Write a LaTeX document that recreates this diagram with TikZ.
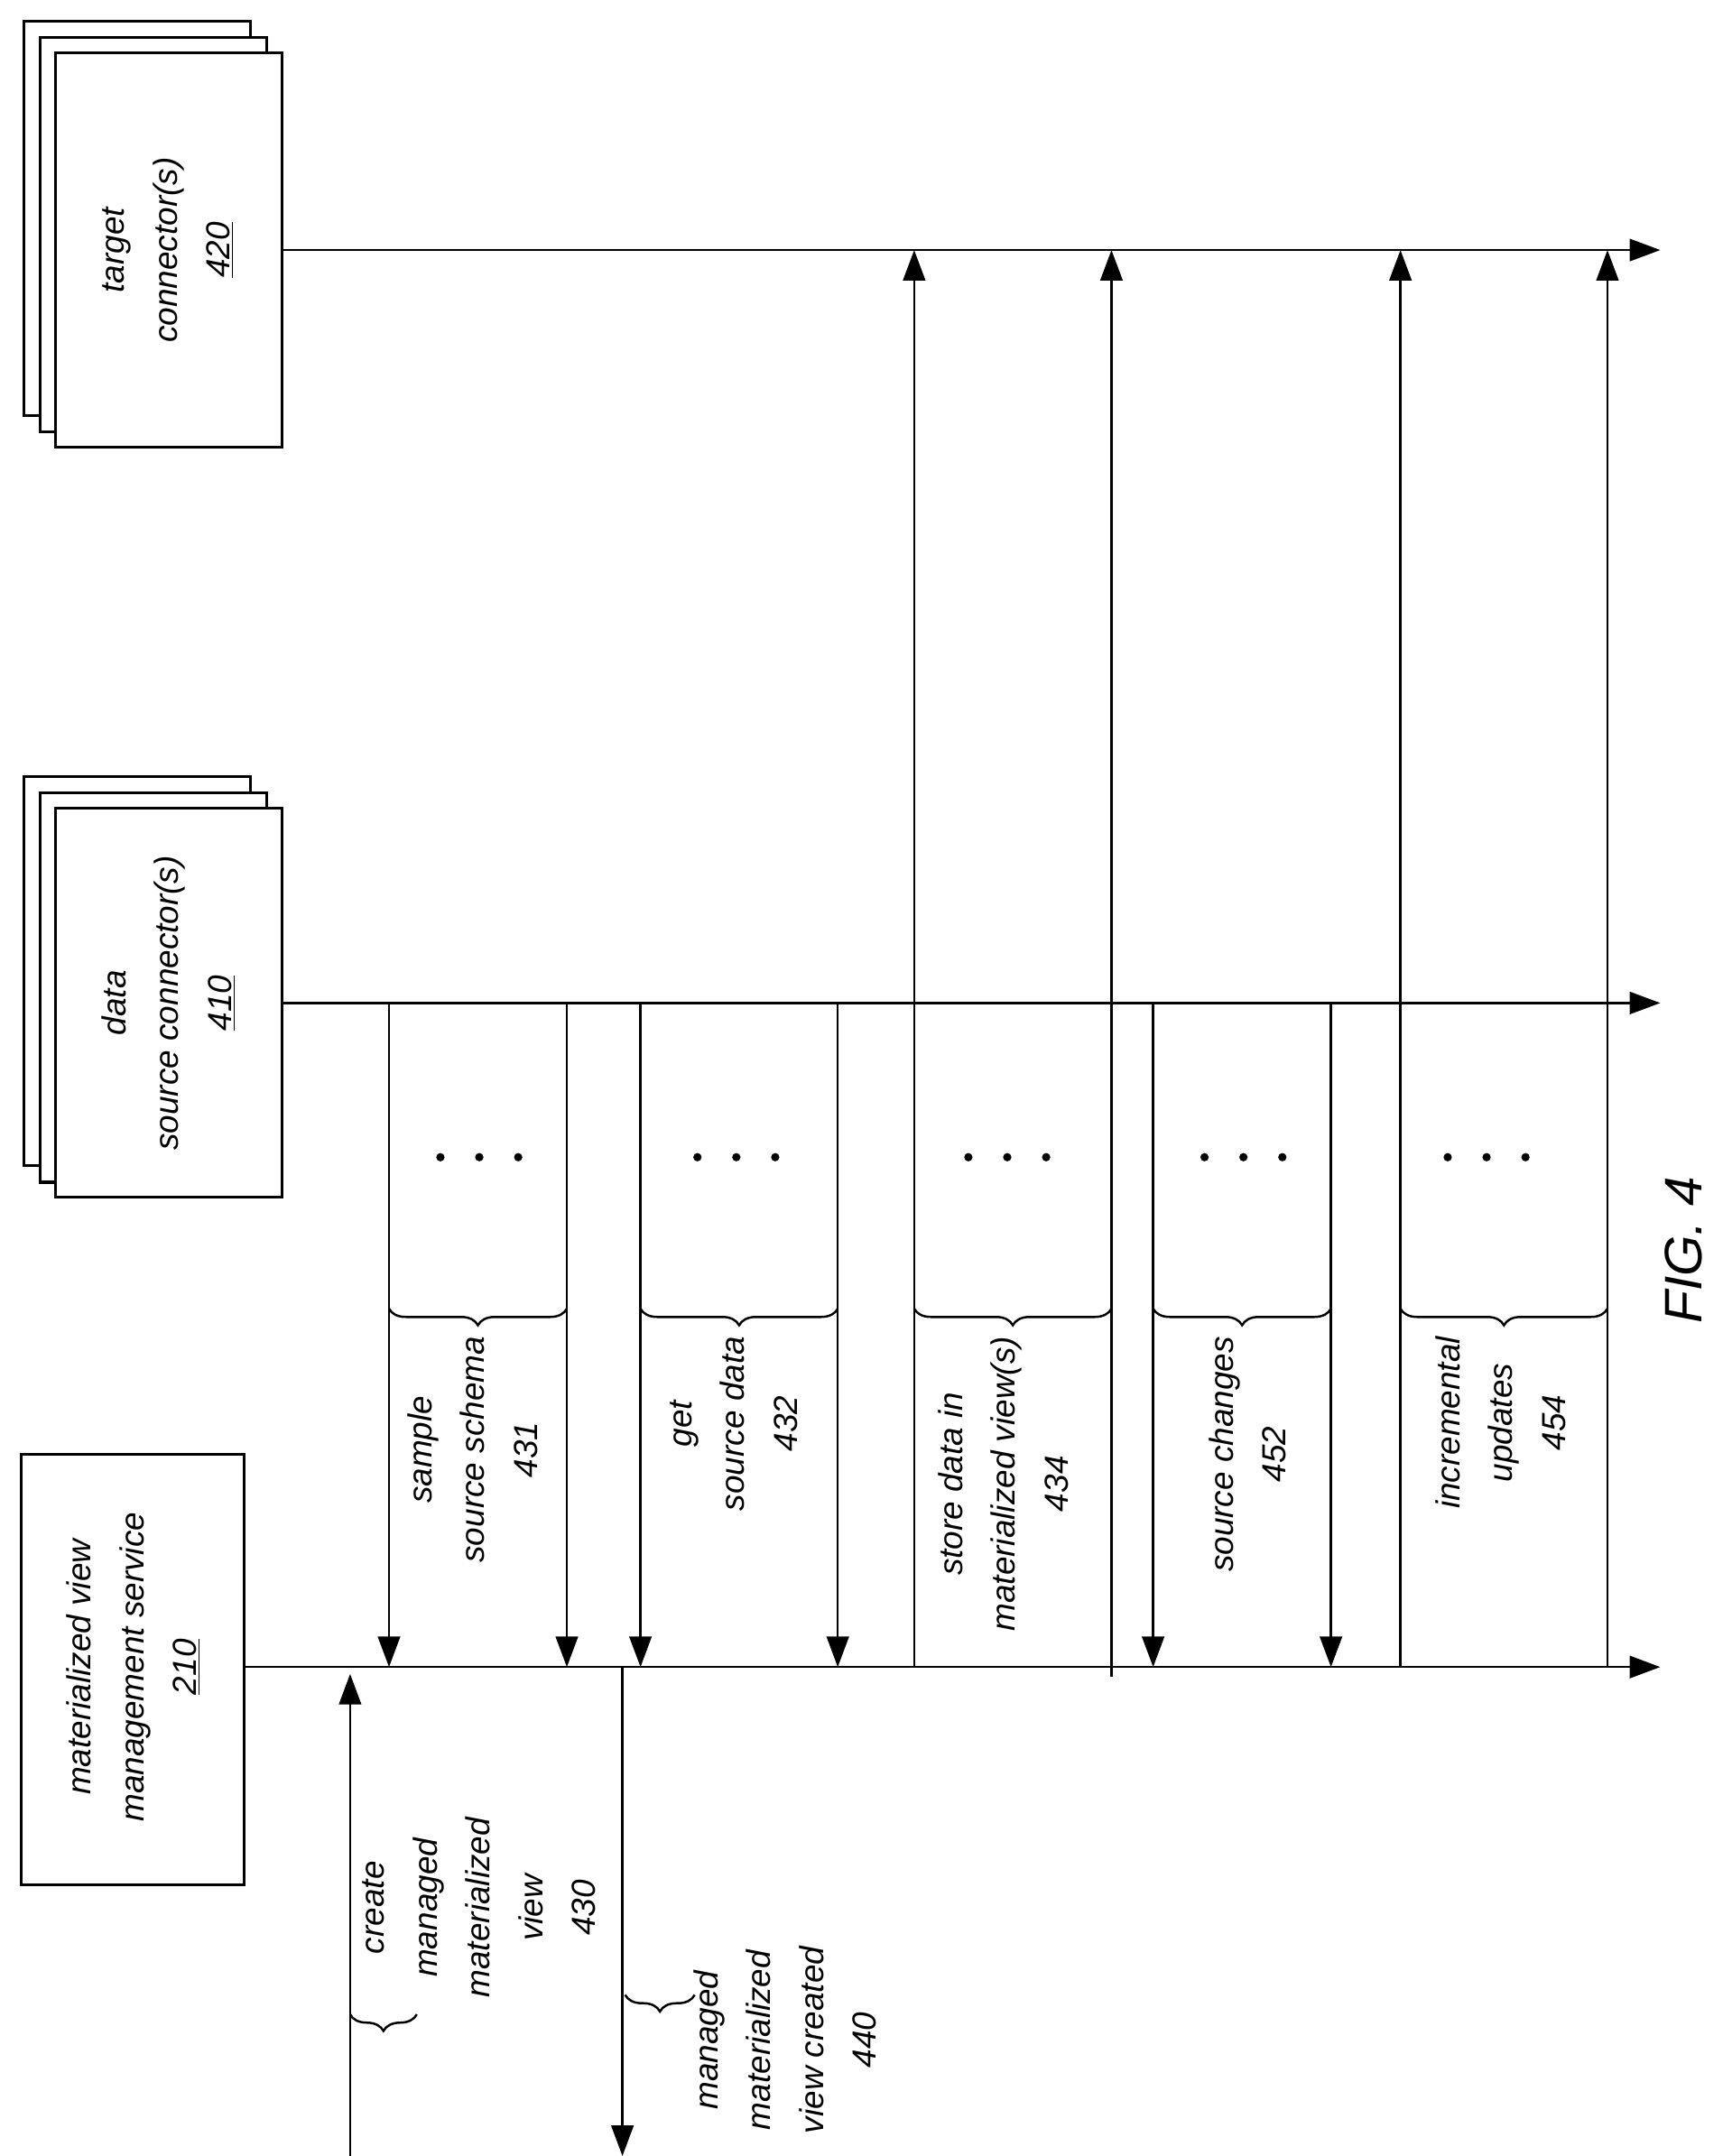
\documentclass[tikz,border=0pt]{standalone}
\usepackage{fontspec}
\setmainfont{Liberation Sans}
\usetikzlibrary{arrows.meta,decorations.pathreplacing}
\begin{document}
\begin{tikzpicture}[x=1pt,y=-1pt,line width=1.6pt,
 box/.style={draw,fill=white,line width=2pt},
 lbl/.style={rotate=90,align=center,font=\fontsize{24}{38}\selectfont\itshape},
 arr/.style={-{Triangle[length=22pt,width=16pt]}},
 brc/.style={decorate,decoration={brace,amplitude=12pt,mirror}}]
\useasboundingbox (0,0) rectangle (1240,1552);
% boxes
\draw[box] (15,1047) rectangle (176,1357);
\node[lbl] (b210) at (96,1200) {materialized view\\management service\\\underline{210}};
\foreach \d in {23,11,0}{\draw[box] (40-\d,582-\d) rectangle (203-\d,862-\d);}
\node[lbl] (b410) at (121,722) {data\\source connector(s)\\\underline{410}};
\foreach \d in {23,11,0}{\draw[box] (40-\d,38-\d) rectangle (203-\d,322-\d);}
\node[lbl] (b420) at (121,180) {target\\connector(s)\\\underline{420}};
% lifelines
\coordinate (e210) at (1195,1200);\coordinate (e410) at (1195,722);\coordinate (e420) at (1195,180);
\draw[arr] (176,1200) -- (e210);
\draw[arr] (203,722) -- (e410);
\draw[arr] (203,180) -- (e420);
% down arrows
\foreach \x in {280,408,461,603,830,958}{\draw[arr] (\x,722) -- (\x,1200);}
% up arrows
\foreach \x in {658,1008,1157}{\draw[arr] (\x,1200) -- (\x,180);}
\draw[arr] (800,1207) -- (800,180);
% dots
\foreach \x in {345,530,725,895,1070}{\foreach \o in {-28,0,28}{\fill (\x+\o,833) circle (3pt);}}
% braces
\foreach \a/\b in {280/408,461/603,658/800,830/958,1008/1157}{\draw[brc] (\a,942) -- (\b,942);}
\node[lbl,anchor=east] (l431) at (340,958) {sample\\source schema\\431};
\node[lbl,anchor=east] (l432) at (528,958) {get\\source data\\432};
\node[lbl,anchor=east] (l434) at (722,958) {store data in\\materialized view(s)\\434};
\node[lbl,anchor=east] (l452) at (898,958) {source changes\\452};
\node[lbl,anchor=east] (l454) at (1080,958) {incremental\\updates\\454};
% bottom
\draw[arr] (252,1552) -- (252,1205);
\draw[arr] (448,1200) -- (448,1552);
\draw[brc] (252,1450) -- (300,1450);
\draw[brc] (450,1436) -- (500,1436);
\node[lbl,anchor=west] (l430) at (345,1442) {create\\managed\\materialized\\view\\430};
\node[lbl,anchor=west] (l440) at (565,1540) {managed\\materialized\\view created\\440};
\node[rotate=90,font=\fontsize{38}{46}\selectfont\itshape] (fig) at (1212,900) {FIG. 4};
\end{tikzpicture}
\end{document}
